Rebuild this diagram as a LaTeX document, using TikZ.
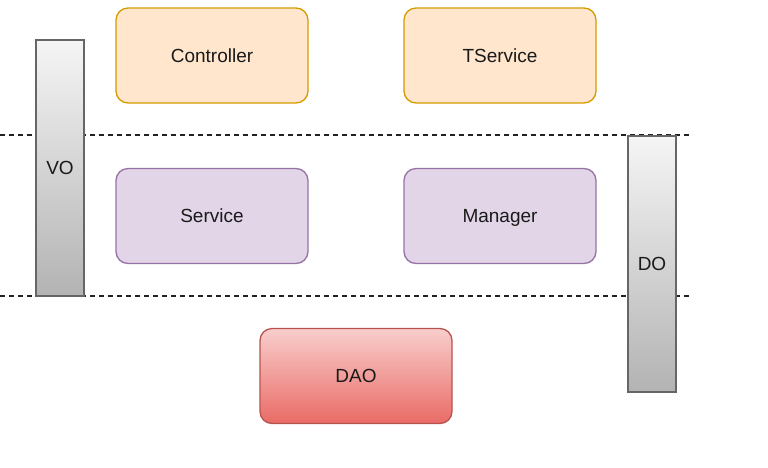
\documentclass[tikz,border=0pt]{standalone}
\usepackage{fontspec}
\setmainfont{Liberation Sans}
\usetikzlibrary{positioning}
\definecolor{ink}{HTML}{1A1A1A}
\definecolor{dash}{HTML}{222222}
\definecolor{peach}{HTML}{FFE6CC}
\definecolor{peachline}{HTML}{D79B00}
\definecolor{lilac}{HTML}{E1D5E7}
\definecolor{lilacline}{HTML}{9673A6}
\definecolor{rosetop}{HTML}{F8CECC}
\definecolor{rosebot}{HTML}{EA6B66}
\definecolor{roseline}{HTML}{B85450}
\definecolor{greytop}{HTML}{F5F5F5}
\definecolor{greybot}{HTML}{B3B3B3}
\definecolor{greyline}{HTML}{666666}
\tikzset{
  layer/.style={rounded corners=12pt,line width=1.3pt,minimum width=192pt,minimum height=95pt,inner sep=0pt,text height=13.5pt,text depth=0pt,font=\fontsize{19}{21}\selectfont,text=ink},
  web/.style={layer,draw=peachline,fill=peach},
  biz/.style={layer,draw=lilacline,fill=lilac},
  dao/.style={layer,draw=roseline,top color=rosetop,bottom color=rosebot},
  obj/.style={draw=greyline,line width=1.3pt,top color=greytop,bottom color=greybot,minimum width=48pt,minimum height=256pt,inner sep=0pt,text height=13.5pt,text depth=0pt,font=\fontsize{19}{21}\selectfont,text=ink},
  sep/.style={draw=dash,line width=1.2pt,dash pattern=on 5pt off 4pt},
}
\begin{document}
\begin{tikzpicture}[x=1pt,y=-1pt]
  \useasboundingbox[fill=white] (0,0) rectangle (768,467);
  % layer borders
  \coordinate (s1a) at (0,135);
  \coordinate (s1b) at (690,135);
  \coordinate (s2a) at (0,296);
  \coordinate (s2b) at (690,296);
  \draw[sep] (s1a) -- (s1b);
  \draw[sep] (s2a) -- (s2b);
  % top layer
  \node[web] (ctrl) at (212,55.5) {Controller};
  \node[web] (tsvc) at (500,55.5) {TService};
  % middle layer
  \node[biz] (svc) at (212,216) {Service};
  \node[biz] (mgr) at (500,216) {Manager};
  % bottom layer
  \node[dao] (dao) at (356,376) {DAO};
  % data objects
  \node[obj] (vo) at (60,168) {VO};
  \node[obj] (do) at (652,264) {DO};
\end{tikzpicture}
\end{document}
